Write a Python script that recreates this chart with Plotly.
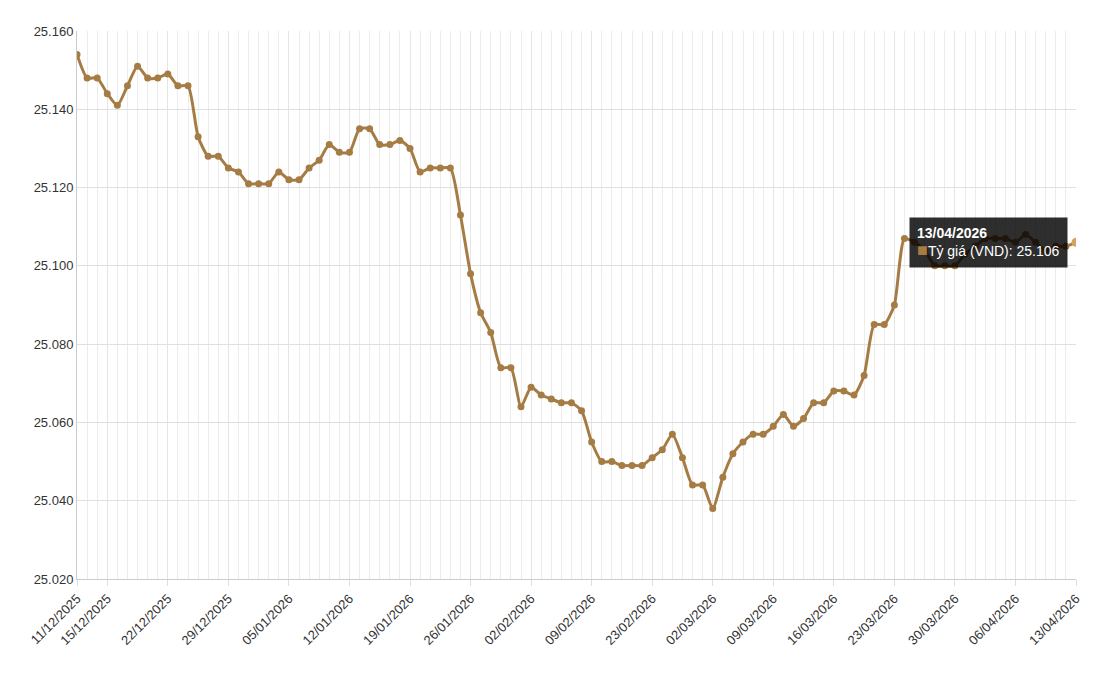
import plotly.graph_objects as go
import datetime as dt

values = [154,148,148,144,141,146,151,148,148,149,
          146,146,133,128,128,125,124,121,121,121,
          124,122,122,125,127,131,129,129,135,135,
          131,131,132,130,124,125,125,125,113,98,
          88,83,74,74,64,69,67,66,65,65,
          63,55,50,50,49,49,49,51,53,57,
          51,44,44,38,46,52,55,57,57,59,
          62,59,61,65,65,68,68,67,72,85,
          85,90,107,106,104,100,100,100,103,105,
          107,107,107,106,108,106,104,105,105,106]
values = [25 + v / 1000 for v in values]

dates = []
d = dt.date(2025, 12, 11)
while d <= dt.date(2026, 4, 13):
    if d.weekday() != 6 and not (dt.date(2026, 2, 16) <= d <= dt.date(2026, 2, 21)):
        dates.append(d)
    d += dt.timedelta(days=1)
labels = [x.strftime("%d/%m/%Y") for x in dates]
idx = list(range(len(labels)))
tick_idx = [i for i, x in enumerate(dates) if x.weekday() == 0 or i == 0 or i == len(dates) - 1]

color = "#a67c45"
fig = go.Figure(go.Scatter(
    x=idx, y=values, mode="lines+markers", line=dict(color=color, width=3, shape="spline", smoothing=0.6),
    marker=dict(color=color, size=7), customdata=labels,
    hovertemplate="%{customdata}<br>Tỷ giá (VND): %{y:.3f}<extra></extra>"))
last = len(idx) - 1
fig.add_trace(go.Scatter(x=[last], y=[values[-1]], mode="markers",
                         marker=dict(color="#d4a35e", size=9), hoverinfo="skip"))
fig.add_annotation(x=last, y=values[-1], xref="x", yref="y", xanchor="right", yanchor="middle",
                   xshift=-8, align="left", showarrow=False,
                   text="<b>%s</b><br><span style='color:%s;font-size:18px'>■</span>Tỷ giá (VND): %s" % (labels[-1], color, f"{values[-1]:.3f}"),
                   bgcolor="rgba(0,0,0,0.82)", font=dict(color="white", size=14, family="Arial"),
                   borderpad=7, bordercolor="rgba(0,0,0,0)")
yt = [25.02 + 0.02 * i for i in range(8)]
fig.update_layout(
    width=1105, height=676, showlegend=False, plot_bgcolor="white", paper_bgcolor="white",
    margin=dict(l=69, r=37, t=23, b=105), font=dict(family="Arial", color="#333", size=13),
    xaxis=dict(range=[0, last], tickmode="array", tickvals=tick_idx, ticktext=[labels[i] for i in tick_idx],
               tickangle=-45, showgrid=True, gridcolor="#e5e5e5", zeroline=False,
               showline=True, linecolor="#ccc", ticks="outside", ticklen=6, tickcolor="#ddd",
               minor=dict(dtick=1, tick0=0, showgrid=True, gridcolor="#ececec")),
    yaxis=dict(range=[25.02, 25.16], tickmode="array", tickvals=yt,
               ticktext=[f"{v:.3f}" for v in yt], showgrid=True, gridcolor="#e0e0e0",
               zeroline=False, showline=True, linecolor="#ccc"),
)
fig.write_html("out.html")
